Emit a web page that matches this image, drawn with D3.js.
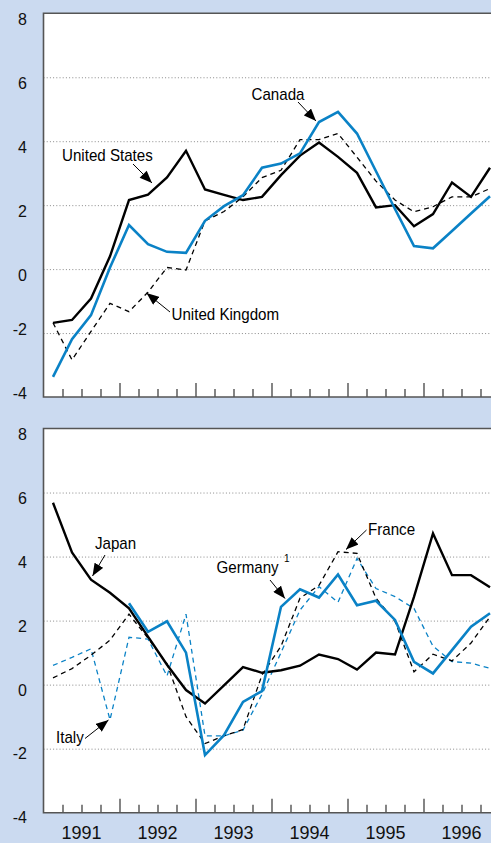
<!DOCTYPE html>
<html>
<head>
<meta charset="utf-8">
<script src="https://cdn.jsdelivr.net/npm/d3@7"></script>
<style>
  body { margin: 0; background: #cbdaf0; }
  svg { display: block; font-family: "Liberation Sans", Arial, Helvetica, sans-serif; }
</style>
</head>
<body>
<div id="chart"></div>
<script>
// quarterly data, 1991Q1 .. 1996Q4
const years = ['1991', '1992', '1993', '1994', '1995', '1996'];
const yTicks = [8, 6, 4, 2, 0, -2, -4];

const unitedStates = [-1.68, -1.59, -0.92, 0.4, 2.16, 2.33, 2.87, 3.70, 2.49, 2.32, 2.16, 2.26,
  2.94, 3.55, 3.96, 3.51, 3.01, 1.93, 2.0, 1.34, 1.72, 2.71, 2.26, 3.17];
const canada = [-3.37, -2.19, -1.44, 0.05, 1.38, 0.78, 0.54, 0.51, 1.51, 1.97, 2.31, 3.17,
  3.30, 3.62, 4.60, 4.92, 4.24, 3.06, 1.88, 0.72, 0.65, 1.19, 1.74, 2.28];
const unitedKingdom = [-1.68, -2.84, -1.95, -1.07, -1.33, -0.72, 0.05, -0.03, 1.51, 1.8, 2.26, 2.86,
  3.09, 4.05, 4.05, 4.24, 3.5, 2.75, 2.16, 1.79, 1.95, 2.26, 2.26, 2.52];

const japan = [5.68, 4.13, 3.28, 2.87, 2.38, 1.5, 0.62, -0.17, -0.59, -0.02, 0.55, 0.37,
  0.45, 0.59, 0.94, 0.80, 0.47, 1.0, 0.94, 2.74, 4.72, 3.42, 3.42, 3.04];
const germany = [null, null, null, null, 2.54, 1.65, 1.98, 1.0, -2.2, -1.58, -0.54, -0.2,
  2.43, 2.98, 2.72, 3.44, 2.48, 2.62, 2.02, 0.71, 0.35, 1.08, 1.81, 2.23];
const france = [0.21, 0.5, 0.92, 1.39, 2.2, 1.45, 0.65, -1.0, -1.84, -1.6, -1.4, 0.3,
  1.2, 2.7, 3.1, 4.15, 4.1, 2.7, 1.98, 0.4, 0.95, 0.74, 1.3, 2.12];
const italy = [0.6, 0.85, 1.12, -1.1, 1.48, 1.42, 0.27, 2.2, -1.6, -1.6, -1.42, -0.3,
  1.0, 2.33, 3.06, 2.57, 3.94, 3.0, 2.75, 2.38, 1.2, 0.72, 0.67, 0.51];

const W = 491, H = 843;
const BLUE = '#0a82c6';

const svg = d3.select('#chart').append('svg')
  .attr('width', W)
  .attr('height', H);

svg.append('rect').attr('width', W).attr('height', H).attr('fill', '#cbdaf0');

svg.append('defs').append('marker')
  .attr('id', 'head')
  .attr('markerUnits', 'userSpaceOnUse')
  .attr('viewBox', '0 0 10 8')
  .attr('refX', 10).attr('refY', 4)
  .attr('markerWidth', 13).attr('markerHeight', 10)
  .attr('orient', 'auto')
  .append('path')
  .attr('d', 'M0,0 L10,4 L0,8 Z')
  .attr('fill', '#000');

// one quarter = 19px, 1991Q1 starts at the left frame
const x = d3.scaleLinear().domain([0, 24]).range([43.5, 499.5]);

function drawPanel(top, bottom, series, labels, negShift) {
  const y = d3.scaleLinear().domain([-4, 8]).range([bottom, top]);
  const g = svg.append('g');

  g.append('rect')
    .attr('x', x(0)).attr('y', y(8))
    .attr('width', x(24) - x(0)).attr('height', y(-4) - y(8))
    .attr('fill', '#fff');

  // dotted gridlines
  g.append('g')
    .attr('transform', 'translate(' + x(0) + ',0)')
    .call(d3.axisRight(y).tickValues([6, 4, 2, 0, -2]).tickSize(x(24) - x(0)).tickFormat(''))
    .call(a => a.select('.domain').remove())
    .selectAll('line')
    .attr('stroke', '#8a8a8a')
    .attr('stroke-width', 1)
    .attr('stroke-dasharray', '1,2.2');

  // quarter ticks
  const minor = d3.range(1, 24).filter(t => t % 4 !== 0);
  const major = d3.range(4, 24, 4);
  [[minor, -8], [major, -14]].forEach(([vals, size]) => {
    g.append('g')
      .attr('transform', 'translate(0,' + y(-4) + ')')
      .call(d3.axisBottom(x).tickValues(vals).tickSize(size).tickFormat(''))
      .call(a => a.select('.domain').remove())
      .selectAll('line')
      .attr('stroke', '#333')
      .attr('stroke-width', 1.2);
  });

  // frame: top, left, bottom
  g.append('path')
    .attr('d', 'M' + x(24) + ',' + y(8) + 'H' + x(0) + 'V' + y(-4) + 'H' + x(24))
    .attr('fill', 'none')
    .attr('stroke', '#555')
    .attr('stroke-width', 1.6);

  // y labels
  g.selectAll('.ylab')
    .data(yTicks)
    .enter().append('text')
    .attr('class', 'ylab')
    .attr('x', 27)
    .attr('y', d => y(d) + (d < 0 ? negShift : 11.5))
    .attr('text-anchor', 'end')
    .attr('font-size', 16)
    .attr('fill', '#111')
    .text(d => d);

  const line = d3.line()
    .defined(d => d != null)
    .x((d, i) => x(i + 0.5))
    .y(d => y(d));

  series.forEach(s => {
    g.append('path')
      .datum(s.values)
      .attr('d', line)
      .attr('fill', 'none')
      .attr('stroke', s.color)
      .attr('stroke-width', s.width)
      .attr('stroke-dasharray', s.dash || null)
      .attr('stroke-linejoin', 'miter');
  });

  labels.forEach(l => {
    g.append('line')
      .attr('x1', l.from[0]).attr('y1', l.from[1])
      .attr('x2', l.to[0]).attr('y2', l.to[1])
      .attr('stroke', '#000')
      .attr('stroke-width', 1)
      .attr('marker-end', 'url(#head)');
    g.append('text')
      .attr('transform', 'translate(' + l.at[0] + ',' + l.at[1] + ') scale(0.89,1)')
      .attr('font-size', 17)
      .attr('fill', '#000')
      .text(l.text);
    if (l.sup) {
      g.append('text')
        .attr('x', l.sup[0]).attr('y', l.sup[1])
        .attr('font-size', 10)
        .text('1');
    }
  });
  return y;
}

drawPanel(13.3, 397, [
  { values: unitedKingdom, color: '#000', width: 1.3, dash: '5,4' },
  { values: unitedStates, color: '#000', width: 2.4 },
  { values: canada, color: BLUE, width: 2.6 }
], [
  { text: 'United States', at: [62, 161], from: [133, 164], to: [152, 183] },
  { text: 'United Kingdom', at: [171.5, 320], from: [170, 312], to: [146.5, 293] },
  { text: 'Canada', at: [251.5, 100], from: [298, 102], to: [316, 121] }
], 1.5);

drawPanel(428.5, 812.7, [
  { values: italy, color: BLUE, width: 1.3, dash: '5,4' },
  { values: france, color: '#000', width: 1.3, dash: '5,4' },
  { values: japan, color: '#000', width: 2.4 },
  { values: germany, color: BLUE, width: 2.6 }
], [
  { text: 'Japan', at: [95, 549], from: [105, 555], to: [92.5, 576] },
  { text: 'Italy', at: [56, 743], from: [85, 738.5], to: [108.5, 720] },
  { text: 'Germany', at: [216.5, 573], from: [270, 580], to: [285, 598.5], sup: [284, 562] },
  { text: 'France', at: [368, 535], from: [366.5, 530], to: [346, 549.5] }
], 10.5);

// year labels under the lower panel
svg.selectAll('.year')
  .data(years)
  .enter().append('text')
  .attr('class', 'year')
  .attr('x', (d, i) => x(4 * i + 2))
  .attr('y', 838.5)
  .attr('text-anchor', 'middle')
  .attr('font-size', 18)
  .attr('fill', '#111')
  .text(d => d);
</script>
</body>
</html>
